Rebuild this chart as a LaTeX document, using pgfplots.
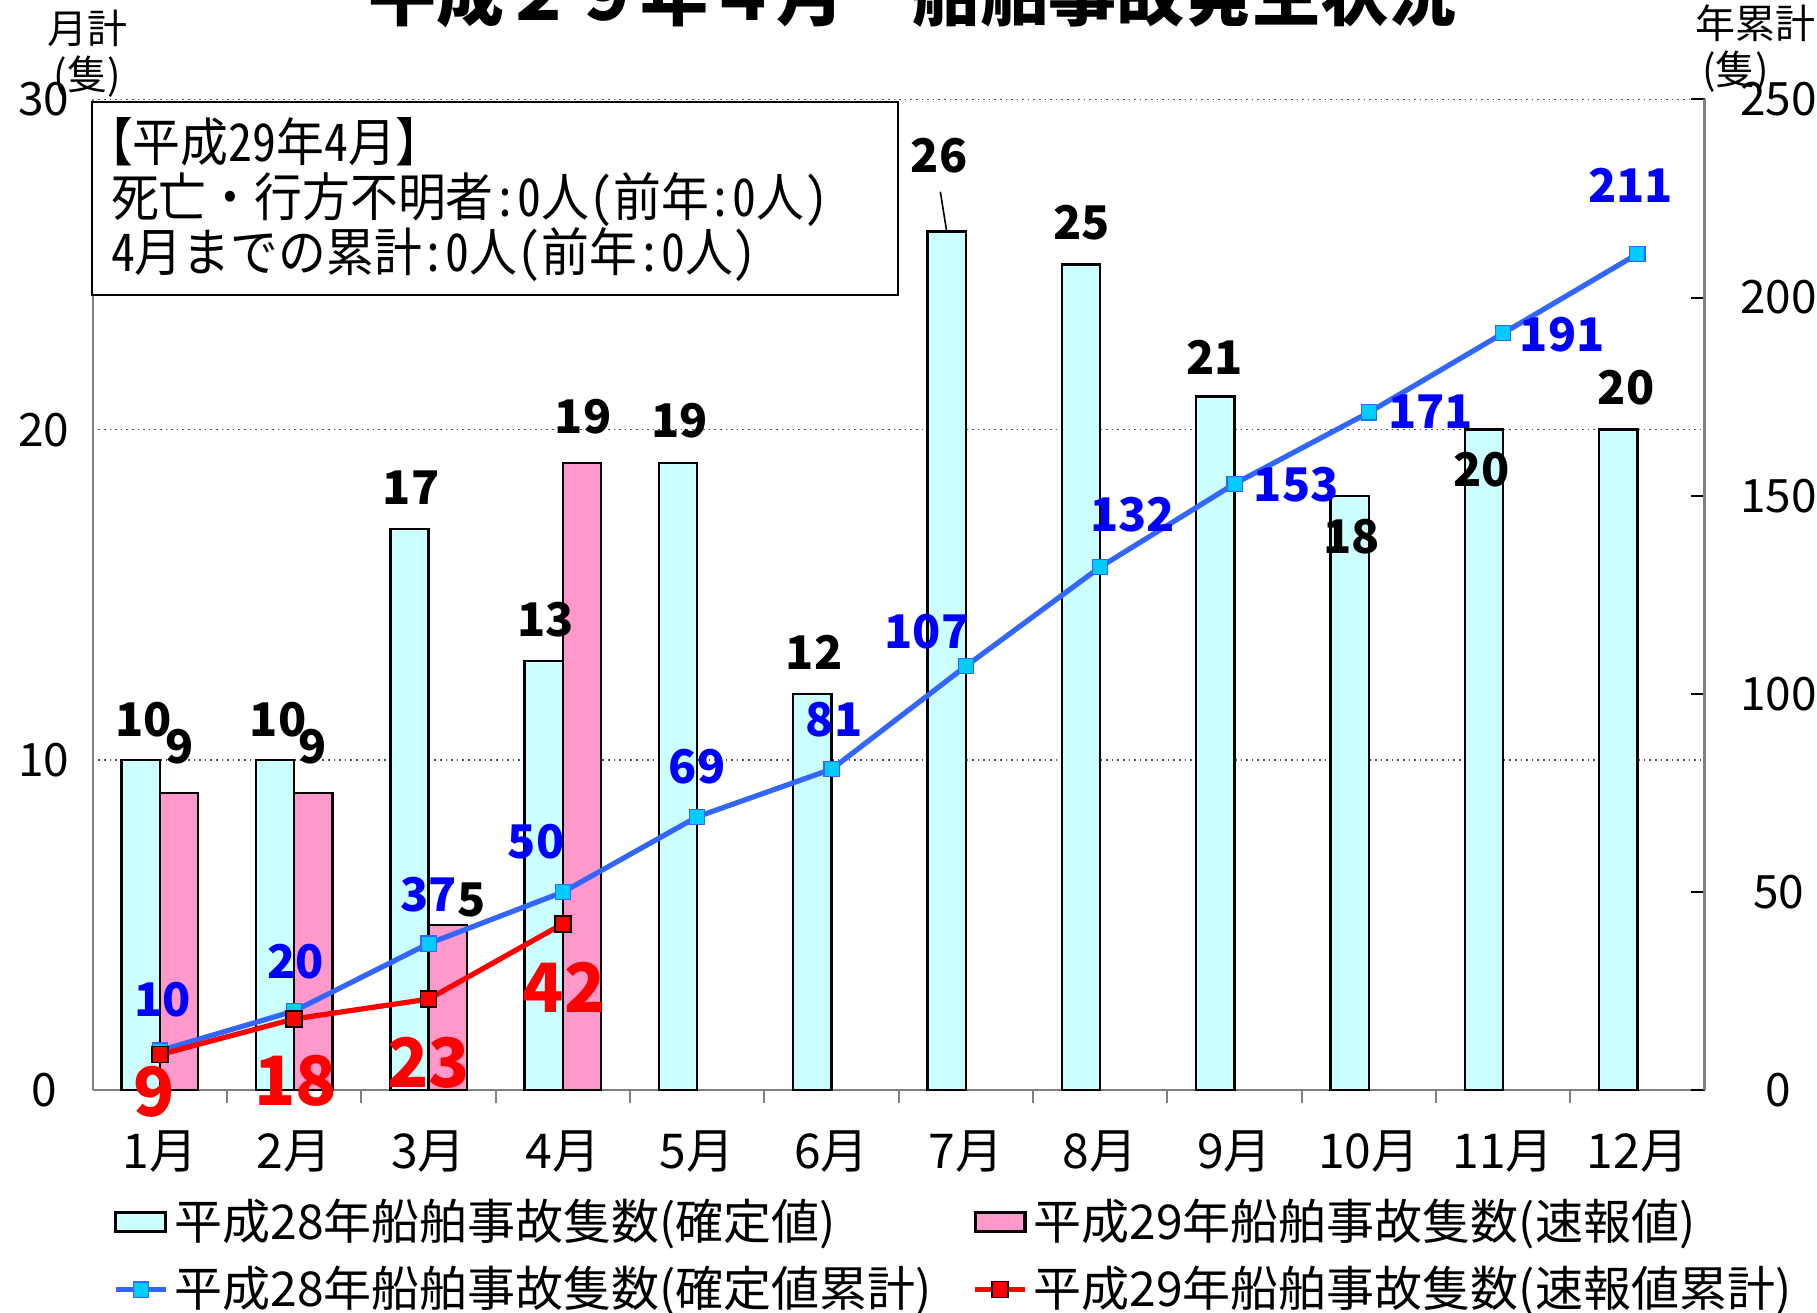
\documentclass[border=0pt]{standalone}
\usepackage{fontspec}
\setmainfont{Noto Sans CJK JP}
\newfontfamily\boxfont[CharacterWidth=Half, FakeStretch=0.92]{Noto Sans CJK JP}
\usepackage{pgfplots}
\pgfplotsset{compat=1.18}
\definecolor{h28c}{HTML}{CCFFFF}
\definecolor{h29c}{HTML}{FF99CC}
\definecolor{cumblue}{HTML}{3366FF}
\definecolor{mkblue}{HTML}{00CCFF}
\definecolor{lblblue}{HTML}{0000FF}
\newcommand{\lab}{\fontsize{11.6}{12}\selectfont\bfseries}
\newcommand{\redlab}{\fontsize{17}{18}\selectfont\bfseries}
\pgfplotsset{
  barleg/.style={legend image code/.code={\draw[##1] (0pt,-2.3pt) rectangle (12.5pt,2.3pt);}},
  lineleg/.style={legend image code/.code={\draw[mark repeat=2,mark phase=2,##1] plot coordinates {(0pt,0pt) (6.25pt,0pt) (12.5pt,0pt)};}},
  base/.style={
    at={(0,0)}, anchor=south west, scale only axis,
    width=403pt, height=247.75pt,
    xmin=-0.5, xmax=11.5,
    /pgf/number format/assume math mode=true,
    tick label style={font=\fontsize{11.5}{12}\selectfont},
  },
}

\begin{document}
\begin{tikzpicture}
\useasboundingbox (-23.2pt,-55.65pt) rectangle (431.1pt,272.6pt);

% monthly counts (left axis)
\begin{axis}[base,
  ymin=0, ymax=30,
  axis x line*=bottom, axis y line*=left,
  axis line style={gray, line width=0.6pt, -},
  xtick={0,...,11},
  xticklabels={1月,2月,3月,4月,5月,6月,7月,8月,9月,10月,11月,12月},
  x tick label style={font=\fontsize{12}{14}\selectfont, anchor=center, yshift=-11pt},
  minor xtick={0.5,1.5,...,10.5},
  major x tick style={draw=none},
  minor tick style={gray, line width=0.5pt},
  minor tick length=3.3pt,
  ytick={0,10,20,30},
  major y tick style={draw=none},
  y tick label style={anchor=center, xshift=-12.2pt},
  ymajorgrids, grid style={densely dotted, black!70, line width=0.4pt},
  tick align=inside,
  ybar, bar width=9.57pt,
]
\addplot[fill=h28c, draw=black, line width=0.6pt, bar shift=-4.785pt] coordinates {
  (0,10) (1,10) (2,17) (3,13) (4,19) (5,12) (6,26) (7,25) (8,21) (9,18) (10,20) (11,20)};
\addplot[fill=h29c, draw=black, line width=0.6pt, bar shift=4.785pt] coordinates {
  (0,9) (1,9) (2,5) (3,19)};
\end{axis}

% cumulative counts (right axis)
\begin{axis}[base,
  ymin=0, ymax=250, clip=false,
  axis y line*=right, axis x line=none,
  axis line style={gray, line width=0.6pt, -},
  ytick={0,50,...,250},
  y tick style={black, line width=0.5pt},
  major tick length=3.3pt, tick align=inside,
  y tick label style={anchor=center, xshift=18.5pt},
  legend columns=2, legend cell align=left,
  legend style={at={(axis description cs:0.0122,-0.1026)}, anchor=north west,
    draw=none, fill=none, inner sep=0pt, row sep=2.3pt,
    font=\fontsize{12}{14}\selectfont,
    nodes={inner sep=1.5pt},
    /tikz/every even column/.append style={column sep=8.6pt}},
]
\addlegendimage{barleg, fill=h28c, draw=black, line width=0.8pt}
\addlegendentry{平成28年船舶事故隻数(確定値)}
\addlegendimage{barleg, fill=h29c, draw=black, line width=0.8pt}
\addlegendentry{平成29年船舶事故隻数(速報値)}
\addplot[lineleg, cumblue, line width=1.3pt, mark=square*, mark size=1.9pt,
  mark options={fill=mkblue, draw=cumblue, line width=0.3pt}]
  coordinates {(0,10) (1,20) (2,37) (3,50) (4,69) (5,81) (6,107) (7,132) (8,153) (9,171) (10,191) (11,211)};
\addlegendentry{平成28年船舶事故隻数(確定値累計)}
\addplot[lineleg, red, line width=1.3pt, mark=square*, mark size=2pt,
  mark options={fill=red, draw=black, line width=0.4pt}]
  coordinates {(0,9) (1,18) (2,23) (3,42)};
\addlegendentry{平成29年船舶事故隻数(速報値累計)}

% data labels: monthly counts
\begin{scope}[every node/.style={font=\lab, inner sep=0pt}]
\node at (axis cs:-0.12,93.6) {10};
\node at (axis cs:0.15,86.6) {9};
\node at (axis cs:0.88,93.6) {10};
\node at (axis cs:1.14,86.6) {9};
\node at (axis cs:1.87,152.1) {17};
\node at (axis cs:2.32,47.9) {5};
\node at (axis cs:2.87,118.75) {13};
\node at (axis cs:3.15,169.9) {19};
\node at (axis cs:3.87,169) {19};
\node at (axis cs:4.87,110.5) {12};
\node at (axis cs:5.80,235.7) {26};
\node at (axis cs:6.86,219) {25};
\node at (axis cs:7.85,184.8) {21};
\node at (axis cs:8.87,139.75) {18};
\node at (axis cs:9.84,156.7) {20};
\node at (axis cs:10.915,177.2) {20};
\end{scope}
\draw[black, line width=0.4pt] (axis cs:5.81,226.7) -- (axis cs:5.857,216.7);
% cumulative labels
\begin{scope}[every node/.style={font=\lab, text=lblblue, inner sep=0pt}]
\node at (axis cs:0.02,22.8) {10};
\node at (axis cs:1.01,32.4) {20};
\node at (axis cs:2.0,49.4) {37};
\node at (axis cs:2.80,62.6) {50};
\node at (axis cs:4.0,81.6) {69};
\node at (axis cs:5.02,93.6) {81};
\node at (axis cs:5.71,115.75) {107};
\node at (axis cs:7.24,145.3) {132};
\node at (axis cs:8.46,152.7) {153};
\node at (axis cs:9.46,171.1) {171};
\node at (axis cs:10.44,190.7) {191};
\node at (axis cs:10.95,228.3) {211};
\end{scope}
\begin{scope}[every node/.style={font=\redlab, text=red, inner sep=0pt}]
\node at (axis cs:-0.04,-0.3) {9};
\node at (axis cs:1.01,2.3) {18};
\node at (axis cs:2.0,7) {23};
\node at (axis cs:3.01,26) {42};
\end{scope}

% info box
\draw[black, line width=0.5pt, fill=white] (axis cs:-0.509,249.4) rectangle (axis cs:5.496,200.6);
\begin{scope}[every node/.style={anchor=west, inner sep=0pt, font=\fontsize{13}{14}\boxfont}]
\node[xshift=-6.5pt] at (axis cs:-0.37,239.2) {【平成29年4月】};
\node at (axis cs:-0.37,224.8) {死亡・行方不明者:0人(前年:0人)};
\node at (axis cs:-0.37,210.8) {4月までの累計:0人(前年:0人)};
\end{scope}
\end{axis}

% titles and axis captions
\node[anchor=base, inner sep=0pt, font=\fontsize{17}{18}\selectfont\bfseries] at (205pt,267.4pt) {平成２９年４月　船舶事故発生状況};
\begin{scope}[every node/.style={inner sep=0pt, font=\fontsize{10}{11}\selectfont}]
\node at (-1.4pt,265.4pt) {月計};
\node at (-1.4pt,253.4pt) {(隻)};
\node at (415.7pt,266.8pt) {年累計};
\node at (410.8pt,254.8pt) {(隻)};
\end{scope}
\end{tikzpicture}
\end{document}
